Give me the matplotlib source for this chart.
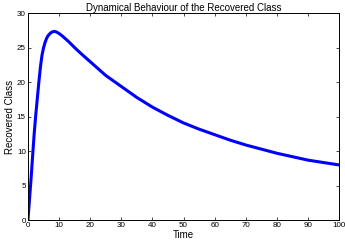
import matplotlib
matplotlib.use("Agg")
import matplotlib.pyplot as plt

# values
time = [0, 0.5, 1, 1.5, 2, 2.5, 3, 3.5, 4, 4.5, 5, 5.5, 6, 6.5, 7, 7.5, 8, 8.5, 9, 10,
        11, 12, 13, 15, 17, 20, 23, 25, 30, 35, 40, 45, 50, 55, 60, 65, 70, 75, 80,
        85, 90, 95, 100]
recovered = [0, 3.0, 6.0, 9.3, 12.5, 15.2, 17.6, 20.0, 22.2, 23.9, 25.0, 25.8, 26.4,
             26.8, 27.05, 27.25, 27.35, 27.4, 27.35, 27.1, 26.75, 26.35, 25.95, 25.05,
             24.2, 23.0, 21.8, 21.0, 19.4, 17.8, 16.4, 15.2, 14.1, 13.2, 12.4, 11.6,
             10.9, 10.3, 9.7, 9.2, 8.7, 8.35, 8.0]

plt.rcParams['font.family'] = ['Liberation Sans', 'DejaVu Sans']

fig = plt.figure(figsize=(3.45, 2.41), dpi=100)
ax = fig.add_axes([0.081, 0.087, 0.902, 0.857])

ax.plot(time, recovered, color=(0, 0, 1), linewidth=2.2)

ax.set_xlim(0, 100)
ax.set_ylim(0, 30)
ax.set_xticks(range(0, 101, 10))
ax.set_yticks(range(0, 31, 5))
ax.tick_params(direction='in', top=True, right=True, length=2.5, width=0.5,
               labelsize=5.8, pad=1.5)
for s in ax.spines.values():
    s.set_linewidth(0.7)

ax.set_title('Dynamical Behaviour of the Recovered Class', fontsize=7, pad=2)
ax.set_xlabel('Time', fontsize=7, labelpad=0.5)
ax.set_ylabel('Recovered Class', fontsize=7, labelpad=1)

fig.savefig('out.png', dpi=100)
